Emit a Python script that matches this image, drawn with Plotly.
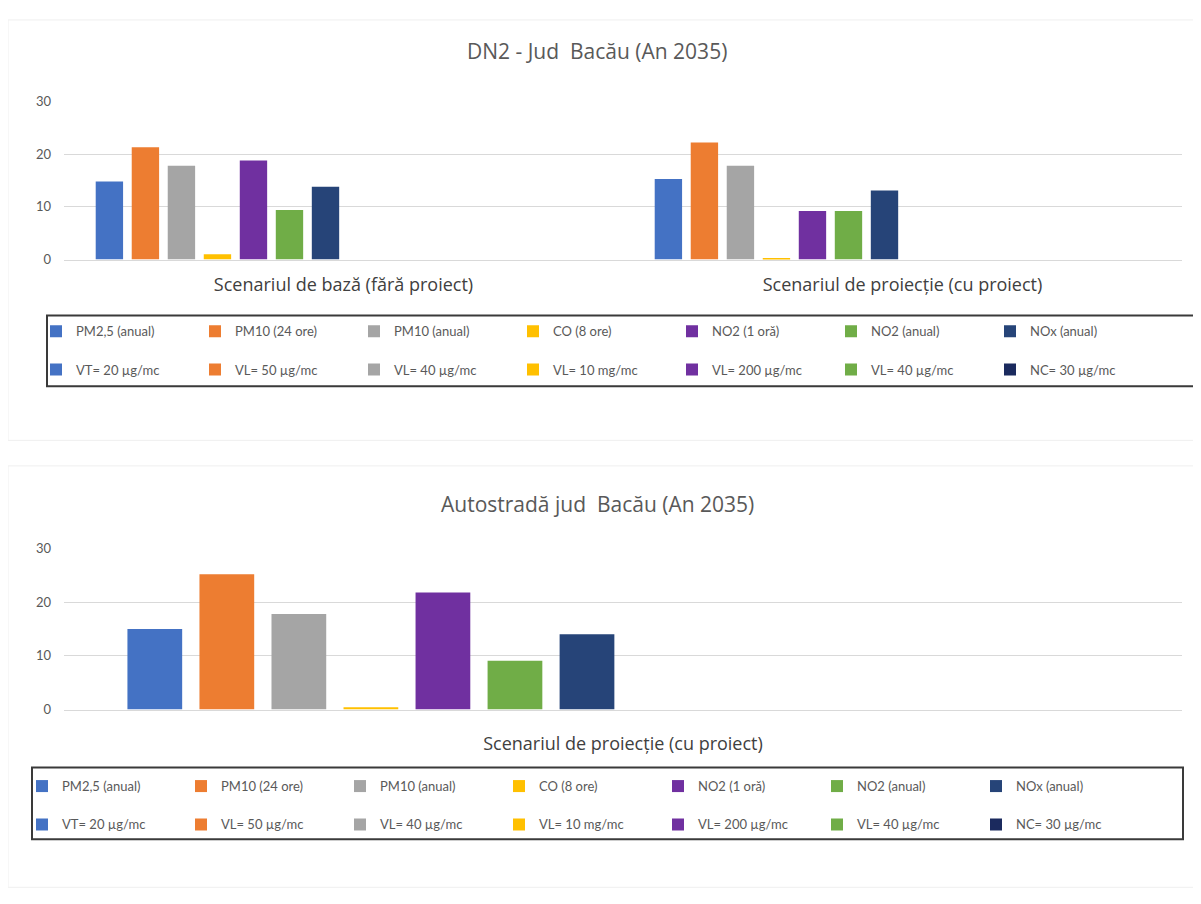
import plotly.graph_objects as go

# ---------------- date ----------------
serii_masurate = ['PM2,5 (anual)', 'PM10 (24 ore)', 'PM10 (anual)', 'CO (8 ore)',
                  'NO2 (1 oră)', 'NO2 (anual)', 'NOx (anual)']
serii_limita = ['VT= 20 µg/mc', 'VL= 50 µg/mc', 'VL= 40 µg/mc', 'VL= 10 mg/mc',
                'VL= 200 µg/mc', 'VL= 40 µg/mc', 'NC= 30 µg/mc']
culori_masurate = ['#4472C4', '#ED7D31', '#A5A5A5', '#FFC000', '#7030A0', '#70AD47', '#264478']
culori_limita = ['#4472C4', '#ED7D31', '#A5A5A5', '#FFC000', '#7030A0', '#70AD47', '#1B2A5E']

scenarii_dn2 = ['Scenariul de bază (fără proiect)', 'Scenariul de proiecție (cu proiect)']
scenarii_autostrada = ['Scenariul de proiecție (cu proiect)']

# valori pe serie: [baza, proiectie]
dn2_valori = [
    [14.8, 15.3],
    [21.3, 22.2],
    [17.8, 17.8],
    [1.0, 0.3],
    [18.8, 9.2],
    [9.4, 9.2],
    [13.8, 13.1],
]
autostrada_valori = [15.0, 25.2, 17.8, 0.4, 21.8, 9.1, 14.0]

titlu_sus = 'DN2 - Jud  Bacău (An 2035)'
titlu_jos = 'Autostradă jud  Bacău (An 2035)'

W, H = 1201, 904
OFF = 8  # marginea implicita a paginii html
FONT = 'Lato'
FONT_MARE = 'Open Sans'
GRI = '#595959'


def px_x(x):
    return (x - OFF) / W


def px_y(y):
    return 1 - (y - OFF) / H


fig = go.Figure()

# graficul de sus (DN2)
for i, nume in enumerate(serii_masurate):
    fig.add_trace(go.Bar(x=scenarii_dn2, y=dn2_valori[i], name=nume,
                         marker=dict(color=culori_masurate[i], line=dict(width=0)),
                         xaxis='x', yaxis='y', legend='legend'))
for i, nume in enumerate(serii_limita):
    fig.add_trace(go.Bar(x=scenarii_dn2, y=[None, None], name=nume,
                         marker=dict(color=culori_limita[i], line=dict(width=0)),
                         xaxis='x', yaxis='y', legend='legend2'))

# graficul de jos (autostrada)
for i, nume in enumerate(serii_masurate):
    fig.add_trace(go.Bar(x=scenarii_autostrada, y=[autostrada_valori[i]], name=nume,
                         marker=dict(color=culori_masurate[i], line=dict(width=0)),
                         xaxis='x2', yaxis='y2', legend='legend3'))
for i, nume in enumerate(serii_limita):
    fig.add_trace(go.Bar(x=scenarii_autostrada, y=[None], name=nume,
                         marker=dict(color=culori_limita[i], line=dict(width=0)),
                         xaxis='x2', yaxis='y2', legend='legend4'))

ax_y = dict(range=[0, 30], dtick=10, showgrid=True, gridcolor='#D9D9D9', gridwidth=1,
            zeroline=False, showline=False, ticks='', ticklabelstandoff=12,
            tickfont=dict(family=FONT, size=13, color=GRI), fixedrange=True)
ax_x = dict(showgrid=False, showline=True, linecolor='#D9D9D9', linewidth=1, ticks='',
            tickfont=dict(family=FONT_MARE, size=18, color='#404040'), fixedrange=True)

leg = dict(orientation='h', xanchor='left', yanchor='middle', bgcolor='rgba(0,0,0,0)',
           borderwidth=0, entrywidth=114, font=dict(family=FONT, size=13, color=GRI),
           traceorder='normal')

fig.update_layout(
    width=W, height=H,
    margin=dict(l=0, r=0, t=0, b=0),
    paper_bgcolor='white', plot_bgcolor='white',
    barmode='group', bargap=0.098, bargroupgap=0.24,
    xaxis=dict(ax_x, domain=[px_x(64), px_x(1182)], anchor='y', ticklabelstandoff=9),
    yaxis=dict(ax_y, domain=[px_y(256), px_y(95)], anchor='x'),
    xaxis2=dict(ax_x, domain=[px_x(64), px_x(1182)], anchor='y2', ticklabelstandoff=18),
    yaxis2=dict(ax_y, domain=[px_y(714), px_y(550)], anchor='x2'),
    legend=dict(leg, x=px_x(36), y=px_y(329)),
    legend2=dict(leg, x=px_x(36), y=px_y(368)),
    legend3=dict(leg, x=px_x(22), y=px_y(792)),
    legend4=dict(leg, x=px_x(22), y=px_y(831)),
    showlegend=True,
    annotations=[
        dict(text=titlu_sus, x=px_x(597), y=px_y(44), xref='paper', yref='paper',
             xanchor='center', yanchor='middle', showarrow=False,
             font=dict(family=FONT_MARE, size=21, color=GRI)),
        dict(text=titlu_jos, x=px_x(597), y=px_y(505), xref='paper', yref='paper',
             xanchor='center', yanchor='middle', showarrow=False,
             font=dict(family=FONT_MARE, size=21, color=GRI)),
    ],
    shapes=[
        dict(type='rect', xref='paper', yref='paper', x0=px_x(8), x1=px_x(1196),
             y0=px_y(440), y1=px_y(12), line=dict(color='#EFEFEF', width=1)),
        dict(type='rect', xref='paper', yref='paper', x0=px_x(8), x1=px_x(1196),
             y0=px_y(895), y1=px_y(466), line=dict(color='#EFEFEF', width=1)),
        dict(type='rect', xref='paper', yref='paper', x0=px_x(47), x1=px_x(1195),
             y0=px_y(385), y1=px_y(313), line=dict(color='#3A3A3A', width=2)),
        dict(type='rect', xref='paper', yref='paper', x0=px_x(32), x1=px_x(1183),
             y0=px_y(846), y1=px_y(773), line=dict(color='#3A3A3A', width=2)),
    ],
)

fig.write_html('out.html')
